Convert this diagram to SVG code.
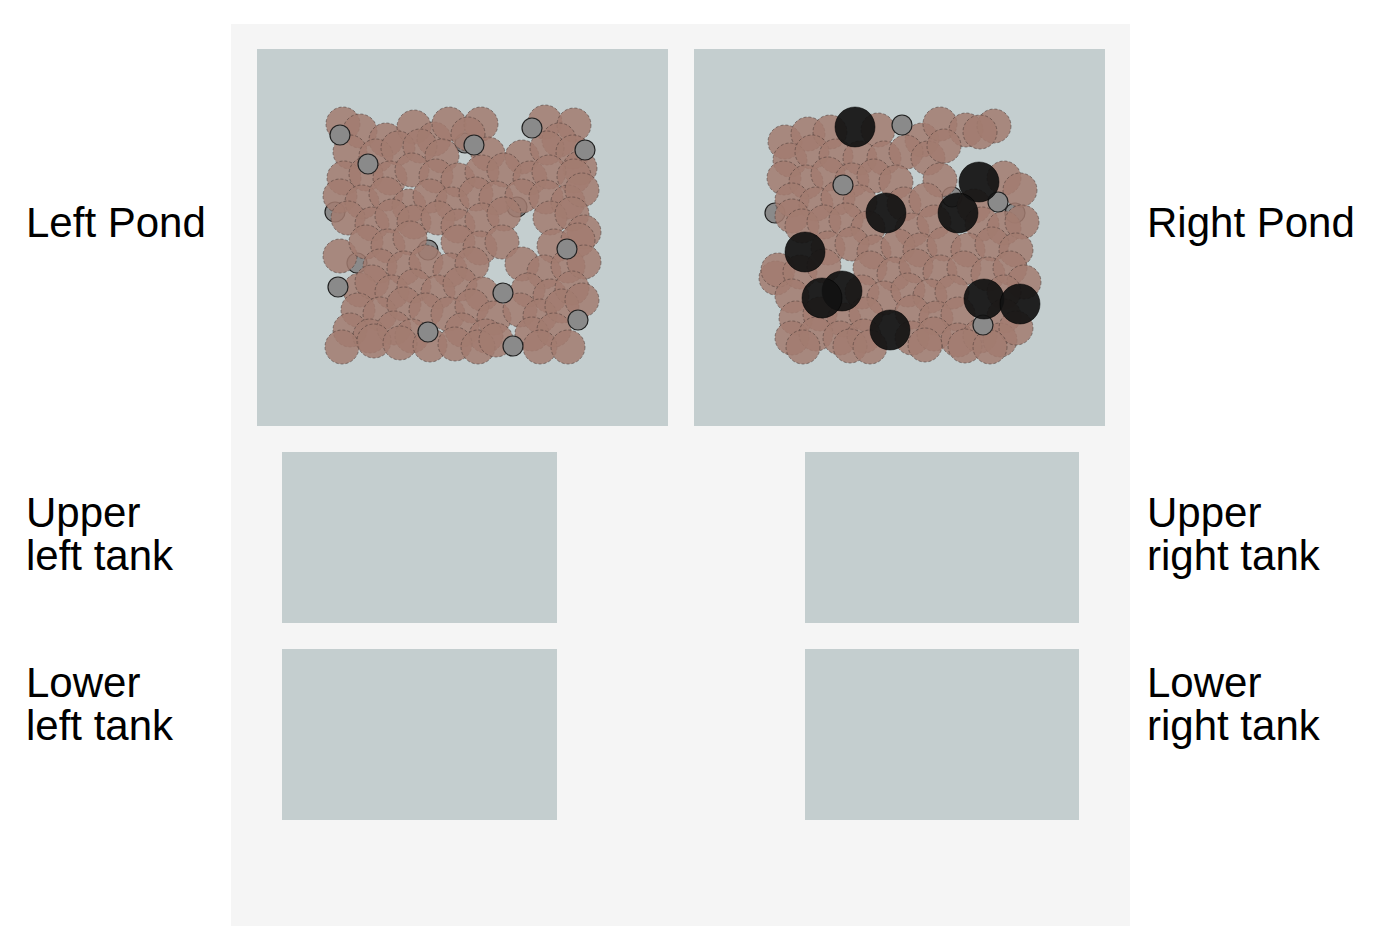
<svg xmlns="http://www.w3.org/2000/svg" width="1374" height="944" viewBox="0 0 1374 944">
<style>
.lbl{font-family:"Liberation Sans",Arial,sans-serif;font-size:42px;fill:#000}
.area{fill:#c4cecf}
.b{fill:#a27b70;fill-opacity:0.85;stroke:#4a3a36;stroke-opacity:0.55;stroke-width:1;stroke-dasharray:3 2}
.g{fill:#8a8a8a;stroke:#222;stroke-width:1.2}
.k{fill:#111;fill-opacity:0.92;stroke:#000;stroke-opacity:0.5;stroke-width:1}
</style>
<rect x="0" y="0" width="1374" height="944" fill="#ffffff"/>
<rect id="panel" x="231" y="24" width="899" height="902" fill="#f5f5f5"/>

<g id="left-pond">
<rect class="area" x="257" y="49" width="411" height="377"/>
<g class="under">
<circle class="g" cx="335" cy="212" r="10"/><circle class="g" cx="357" cy="263" r="10"/><circle class="g" cx="428" cy="250" r="10"/><circle class="g" cx="517" cy="207" r="10"/><circle class="g" cx="465" cy="143" r="10"/>
</g>
<g class="brown">
<circle class="b" cx="343" cy="124" r="17"/><circle class="b" cx="360" cy="131" r="17"/><circle class="b" cx="386" cy="140" r="17"/><circle class="b" cx="414" cy="127" r="17"/><circle class="b" cx="434" cy="139" r="17"/><circle class="b" cx="449" cy="124" r="17"/><circle class="b" cx="481" cy="124" r="17"/><circle class="b" cx="468" cy="134" r="17"/><circle class="b" cx="545" cy="122" r="17"/><circle class="b" cx="574" cy="125" r="17"/><circle class="b" cx="559" cy="140" r="17"/>
<circle class="b" cx="350" cy="152" r="17"/><circle class="b" cx="376" cy="156" r="17"/><circle class="b" cx="398" cy="148" r="17"/><circle class="b" cx="420" cy="146" r="17"/><circle class="b" cx="442" cy="156" r="17"/><circle class="b" cx="488" cy="154" r="17"/><circle class="b" cx="522" cy="157" r="17"/><circle class="b" cx="547" cy="148" r="17"/><circle class="b" cx="573" cy="152" r="17"/><circle class="b" cx="580" cy="168" r="17"/>
<circle class="b" cx="344" cy="178" r="17"/><circle class="b" cx="366" cy="174" r="17"/><circle class="b" cx="390" cy="178" r="17"/><circle class="b" cx="412" cy="170" r="17"/><circle class="b" cx="436" cy="176" r="17"/><circle class="b" cx="458" cy="180" r="17"/><circle class="b" cx="482" cy="172" r="17"/><circle class="b" cx="504" cy="170" r="17"/><circle class="b" cx="530" cy="178" r="17"/><circle class="b" cx="549" cy="172" r="17"/><circle class="b" cx="574" cy="176" r="17"/>
<circle class="b" cx="340" cy="196" r="17"/><circle class="b" cx="362" cy="202" r="17"/><circle class="b" cx="386" cy="194" r="17"/><circle class="b" cx="409" cy="206" r="17"/><circle class="b" cx="430" cy="196" r="17"/><circle class="b" cx="452" cy="204" r="17"/><circle class="b" cx="476" cy="194" r="17"/><circle class="b" cx="496" cy="198" r="17"/><circle class="b" cx="522" cy="196" r="17"/><circle class="b" cx="546" cy="197" r="17"/><circle class="b" cx="568" cy="202" r="17"/><circle class="b" cx="582" cy="190" r="17"/>
<circle class="b" cx="348" cy="218" r="17"/><circle class="b" cx="372" cy="224" r="17"/><circle class="b" cx="392" cy="216" r="17"/><circle class="b" cx="414" cy="222" r="17"/><circle class="b" cx="438" cy="218" r="17"/><circle class="b" cx="458" cy="226" r="17"/><circle class="b" cx="482" cy="220" r="17"/><circle class="b" cx="504" cy="214" r="17"/><circle class="b" cx="550" cy="218" r="17"/><circle class="b" cx="572" cy="214" r="17"/><circle class="b" cx="584" cy="232" r="17"/>
<circle class="b" cx="340" cy="256" r="17"/><circle class="b" cx="366" cy="242" r="17"/><circle class="b" cx="388" cy="246" r="17"/><circle class="b" cx="410" cy="238" r="17"/><circle class="b" cx="458" cy="242" r="17"/><circle class="b" cx="480" cy="248" r="17"/><circle class="b" cx="502" cy="242" r="17"/><circle class="b" cx="554" cy="246" r="17"/><circle class="b" cx="578" cy="240" r="17"/>
<circle class="b" cx="380" cy="266" r="17"/><circle class="b" cx="404" cy="268" r="17"/><circle class="b" cx="426" cy="262" r="17"/><circle class="b" cx="450" cy="270" r="17"/><circle class="b" cx="472" cy="264" r="17"/><circle class="b" cx="522" cy="264" r="17"/><circle class="b" cx="544" cy="272" r="17"/><circle class="b" cx="568" cy="266" r="17"/><circle class="b" cx="584" cy="262" r="17"/>
<circle class="b" cx="360" cy="290" r="17"/><circle class="b" cx="372" cy="282" r="17"/><circle class="b" cx="392" cy="292" r="17"/><circle class="b" cx="414" cy="286" r="17"/><circle class="b" cx="438" cy="292" r="17"/><circle class="b" cx="460" cy="284" r="17"/><circle class="b" cx="482" cy="294" r="17"/><circle class="b" cx="528" cy="290" r="17"/><circle class="b" cx="550" cy="296" r="17"/><circle class="b" cx="572" cy="288" r="17"/>
<circle class="b" cx="358" cy="310" r="17"/><circle class="b" cx="380" cy="314" r="17"/><circle class="b" cx="404" cy="304" r="17"/><circle class="b" cx="426" cy="310" r="17"/><circle class="b" cx="448" cy="314" r="17"/><circle class="b" cx="472" cy="306" r="17"/><circle class="b" cx="494" cy="318" r="17"/><circle class="b" cx="520" cy="310" r="17"/><circle class="b" cx="540" cy="316" r="17"/><circle class="b" cx="562" cy="306" r="17"/><circle class="b" cx="582" cy="300" r="17"/>
<circle class="b" cx="350" cy="330" r="17"/><circle class="b" cx="370" cy="336" r="17"/><circle class="b" cx="394" cy="328" r="17"/><circle class="b" cx="412" cy="336" r="17"/><circle class="b" cx="462" cy="330" r="17"/><circle class="b" cx="486" cy="336" r="17"/><circle class="b" cx="532" cy="334" r="17"/><circle class="b" cx="554" cy="330" r="17"/>
<circle class="b" cx="342" cy="347" r="17"/><circle class="b" cx="374" cy="341" r="17"/><circle class="b" cx="400" cy="343" r="17"/><circle class="b" cx="430" cy="345" r="17"/><circle class="b" cx="455" cy="344" r="17"/><circle class="b" cx="478" cy="347" r="17"/><circle class="b" cx="496" cy="340" r="17"/><circle class="b" cx="540" cy="347" r="17"/><circle class="b" cx="568" cy="347" r="17"/>
</g>
<g class="grey">
<circle class="g" cx="340" cy="135" r="10"/><circle class="g" cx="368" cy="164" r="10"/><circle class="g" cx="532" cy="128" r="10"/><circle class="g" cx="474" cy="145" r="10"/><circle class="g" cx="585" cy="150" r="10"/><circle class="g" cx="338" cy="287" r="10"/><circle class="g" cx="428" cy="332" r="10"/><circle class="g" cx="567" cy="249" r="10"/><circle class="g" cx="503" cy="293" r="10"/><circle class="g" cx="578" cy="320" r="10"/><circle class="g" cx="513" cy="346" r="10"/>
</g>
</g>

<g id="right-pond">
<rect class="area" x="694" y="49" width="411" height="377"/>
<g class="under">
<circle class="g" cx="952" cy="197" r="10"/><circle class="g" cx="775" cy="213" r="10"/><circle class="g" cx="1015" cy="213" r="10"/>
</g>
<g class="brown">
<circle class="b" cx="785" cy="142" r="17"/><circle class="b" cx="808" cy="134" r="17"/><circle class="b" cx="830" cy="132" r="17"/><circle class="b" cx="878" cy="130" r="17"/><circle class="b" cx="922" cy="140" r="17"/><circle class="b" cx="940" cy="124" r="17"/><circle class="b" cx="966" cy="130" r="17"/><circle class="b" cx="994" cy="126" r="17"/><circle class="b" cx="980" cy="132" r="17"/>
<circle class="b" cx="790" cy="160" r="17"/><circle class="b" cx="812" cy="152" r="17"/><circle class="b" cx="836" cy="156" r="17"/><circle class="b" cx="860" cy="158" r="17"/><circle class="b" cx="884" cy="158" r="17"/><circle class="b" cx="906" cy="152" r="17"/><circle class="b" cx="928" cy="158" r="17"/><circle class="b" cx="944" cy="146" r="17"/>
<circle class="b" cx="784" cy="178" r="17"/><circle class="b" cx="806" cy="182" r="17"/><circle class="b" cx="828" cy="174" r="17"/><circle class="b" cx="852" cy="180" r="17"/><circle class="b" cx="874" cy="176" r="17"/><circle class="b" cx="896" cy="182" r="17"/><circle class="b" cx="940" cy="180" r="17"/><circle class="b" cx="1004" cy="178" r="17"/><circle class="b" cx="1020" cy="190" r="17"/>
<circle class="b" cx="792" cy="200" r="17"/><circle class="b" cx="816" cy="204" r="17"/><circle class="b" cx="838" cy="198" r="17"/><circle class="b" cx="860" cy="202" r="17"/><circle class="b" cx="904" cy="204" r="17"/><circle class="b" cx="926" cy="200" r="17"/><circle class="b" cx="974" cy="206" r="17"/>
<circle class="b" cx="792" cy="216" r="17"/><circle class="b" cx="802" cy="226" r="17"/><circle class="b" cx="824" cy="222" r="17"/><circle class="b" cx="846" cy="220" r="17"/><circle class="b" cx="868" cy="228" r="17"/><circle class="b" cx="912" cy="230" r="17"/><circle class="b" cx="934" cy="222" r="17"/><circle class="b" cx="982" cy="224" r="17"/><circle class="b" cx="1004" cy="228" r="17"/><circle class="b" cx="1022" cy="222" r="17"/>
<circle class="b" cx="828" cy="248" r="17"/><circle class="b" cx="852" cy="244" r="17"/><circle class="b" cx="874" cy="252" r="17"/><circle class="b" cx="898" cy="246" r="17"/><circle class="b" cx="920" cy="250" r="17"/><circle class="b" cx="944" cy="244" r="17"/><circle class="b" cx="968" cy="250" r="17"/><circle class="b" cx="992" cy="244" r="17"/><circle class="b" cx="1016" cy="250" r="17"/>
<circle class="b" cx="776" cy="278" r="17"/><circle class="b" cx="778" cy="270" r="17"/><circle class="b" cx="800" cy="272" r="17"/><circle class="b" cx="824" cy="266" r="17"/><circle class="b" cx="870" cy="268" r="17"/><circle class="b" cx="894" cy="274" r="17"/><circle class="b" cx="916" cy="266" r="17"/><circle class="b" cx="940" cy="272" r="17"/><circle class="b" cx="964" cy="268" r="17"/><circle class="b" cx="988" cy="274" r="17"/><circle class="b" cx="1010" cy="268" r="17"/><circle class="b" cx="1024" cy="282" r="17"/>
<circle class="b" cx="792" cy="296" r="17"/><circle class="b" cx="862" cy="292" r="17"/><circle class="b" cx="884" cy="298" r="17"/><circle class="b" cx="908" cy="290" r="17"/><circle class="b" cx="930" cy="296" r="17"/><circle class="b" cx="952" cy="292" r="17"/><circle class="b" cx="1004" cy="292" r="17"/>
<circle class="b" cx="796" cy="318" r="17"/><circle class="b" cx="820" cy="314" r="17"/><circle class="b" cx="844" cy="320" r="17"/><circle class="b" cx="866" cy="314" r="17"/><circle class="b" cx="912" cy="312" r="17"/><circle class="b" cx="936" cy="318" r="17"/><circle class="b" cx="958" cy="314" r="17"/><circle class="b" cx="1004" cy="316" r="17"/>
<circle class="b" cx="792" cy="338" r="17"/><circle class="b" cx="816" cy="334" r="17"/><circle class="b" cx="840" cy="338" r="17"/><circle class="b" cx="864" cy="336" r="17"/><circle class="b" cx="912" cy="338" r="17"/><circle class="b" cx="934" cy="334" r="17"/><circle class="b" cx="958" cy="340" r="17"/><circle class="b" cx="980" cy="336" r="17"/><circle class="b" cx="1000" cy="340" r="17"/><circle class="b" cx="1016" cy="328" r="17"/>
<circle class="b" cx="803" cy="347" r="17"/><circle class="b" cx="850" cy="346" r="17"/><circle class="b" cx="870" cy="347" r="17"/><circle class="b" cx="925" cy="345" r="17"/><circle class="b" cx="965" cy="346" r="17"/><circle class="b" cx="990" cy="347" r="17"/>
</g>
<g class="grey">
<circle class="g" cx="902" cy="125" r="10"/><circle class="g" cx="843" cy="185" r="10"/><circle class="g" cx="998" cy="202" r="10"/><circle class="g" cx="983" cy="325" r="10"/>
</g>
<g class="black">
<circle class="k" cx="855" cy="127" r="20"/><circle class="k" cx="979" cy="182" r="20"/><circle class="k" cx="886" cy="213" r="20"/><circle class="k" cx="958" cy="213" r="20"/><circle class="k" cx="805" cy="252" r="20"/><circle class="k" cx="842" cy="291" r="20"/><circle class="k" cx="822" cy="298" r="20"/><circle class="k" cx="984" cy="299" r="20"/><circle class="k" cx="1020" cy="304" r="20"/><circle class="k" cx="890" cy="330" r="20"/>
</g>
</g>

<g id="upper-left-tank"><rect class="area" x="282" y="452" width="275" height="171"/></g>
<g id="lower-left-tank"><rect class="area" x="282" y="649" width="275" height="171"/></g>
<g id="upper-right-tank"><rect class="area" x="805" y="452" width="274" height="171"/></g>
<g id="lower-right-tank"><rect class="area" x="805" y="649" width="274" height="171"/></g>

<g id="connectors"></g>

<g id="labels">
<text class="lbl" x="26" y="237">Left Pond</text>
<text class="lbl" x="1147" y="237">Right Pond</text>
<text class="lbl" x="26" y="527">Upper</text>
<text class="lbl" x="26" y="570">left tank</text>
<text class="lbl" x="1147" y="527">Upper</text>
<text class="lbl" x="1147" y="570">right tank</text>
<text class="lbl" x="26" y="697">Lower</text>
<text class="lbl" x="26" y="740">left tank</text>
<text class="lbl" x="1147" y="697">Lower</text>
<text class="lbl" x="1147" y="740">right tank</text>
</g>
</svg>
